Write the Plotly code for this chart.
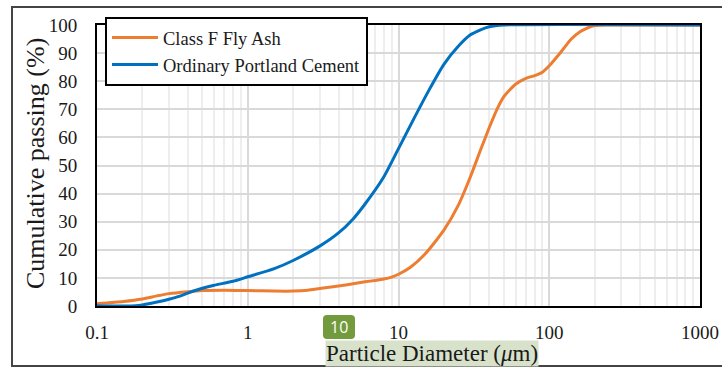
import plotly.graph_objects as go

# Particle size distribution data (diameter in micrometres, cumulative passing %)
fa_x = [0.1, 0.15, 0.2, 0.25, 0.3, 0.4, 0.5, 0.7, 1.0, 1.5, 2.0, 2.5, 3.0, 4.0, 5.0, 6.0, 7.0, 8.0, 9.0,
        10, 12, 15, 20, 25, 30, 35, 40, 45, 50, 60, 70, 80, 90, 100, 120, 140, 160, 180, 200, 250, 1000]
fa_y = [0.8, 1.6, 2.5, 3.6, 4.4, 5.1, 5.5, 5.6, 5.5, 5.3, 5.3, 5.6, 6.2, 7.1, 7.9, 8.6, 9.1, 9.6, 10.3,
        11.3, 13.8, 18.5, 27, 36, 46, 55.5, 63.5, 70, 74.5, 79, 81, 82, 83.2, 85.5, 90.5, 95, 97.6, 99, 99.8, 100, 100]

opc_x = [0.1, 0.15, 0.18, 0.2, 0.25, 0.3, 0.35, 0.4, 0.5, 0.6, 0.8, 1.0, 1.5, 2.0, 3.0, 4.0, 5.0, 6.0, 8.0,
         10, 12.6, 16, 20, 25, 30, 35, 40, 50, 1000]
opc_y = [0, 0, 0.1, 0.4, 1.4, 2.4, 3.4, 4.6, 6.3, 7.4, 8.8, 10.4, 13.3, 16.2, 21.3, 26, 31, 36.3, 46,
         56, 66.5, 77, 86, 92.5, 96.5, 98.3, 99.4, 100, 100]

x_tickvals = [0.1, 1, 10, 100, 1000]
x_ticktext = ["0.1", "1", "10", "100", "1000"]
y_tickvals = [0, 10, 20, 30, 40, 50, 60, 70, 80, 90, 100]

names = ["Class F Fly Ash", "Ordinary Portland Cement"]
colors = ["#ED7D31", "#0070C0"]

FONT = "Liberation Serif"

fig = go.Figure()
fig.add_trace(go.Scatter(x=fa_x, y=fa_y, mode="lines", name=names[0], legendgroup="a",
                         line=dict(color=colors[0], width=3, shape="spline", smoothing=0.6)))
fig.add_trace(go.Scatter(x=opc_x, y=opc_y, mode="lines", name=names[1], legendgroup="b",
                         line=dict(color=colors[1], width=3, shape="spline", smoothing=0.6)))

# plot area: px 97..700 horizontally, py 25..306 vertically
L, R, T, B = 97, 700, 25, 306
W, H = 722, 369


def px(x):
    return (x - L) / (R - L)


def py(y):
    return (B - y) / (B - T)


fig.update_layout(
    width=W, height=H,
    margin=dict(l=L, r=W - R, t=T, b=H - B, autoexpand=False),
    paper_bgcolor="white", plot_bgcolor="white",
    font=dict(family=FONT, size=19, color="#1a1a1a"),
    showlegend=True,
    legend=dict(xref="container", yref="container", x=105 / W, y=1 - 17 / H,
                xanchor="left", yanchor="top",
                bgcolor="white", bordercolor="black", borderwidth=2,
                font=dict(family=FONT, size=18.5, color="#1a1a1a"),
                itemwidth=46,
                traceorder="grouped", tracegroupgap=0),
    xaxis=dict(type="log", range=[-1, 3], tickvals=x_tickvals, ticktext=x_ticktext,
               showgrid=True, gridcolor="#d9d9d9", gridwidth=1.5,
               minor=dict(dtick="D1", showgrid=True, gridcolor="#eeeeee", gridwidth=1.5),
               showline=True, linecolor="black", linewidth=2, mirror=True,
               ticks="", ticklabelstandoff=8, zeroline=False, automargin=False,
               tickfont=dict(family=FONT, size=19)),
    yaxis=dict(range=[0, 100], tickvals=y_tickvals,
               showgrid=True, gridcolor="#d9d9d9", gridwidth=1.5,
               showline=True, linecolor="black", linewidth=2, mirror=True,
               ticks="", ticklabelstandoff=14, zeroline=False, automargin=False,
               tickfont=dict(family=FONT, size=19)),
)

# outer frame (right edge lies beyond the visible image)
fig.add_shape(type="rect", xref="paper", yref="paper",
              x0=px(12), x1=px(740), y0=py(366), y1=py(7),
              line=dict(color="#444444", width=2), fillcolor="rgba(0,0,0,0)", layer="below")

# y-axis title
fig.add_annotation(xref="paper", yref="paper", x=px(35), y=py(164),
                   text="Cumulative passing (%)", showarrow=False, textangle=-90,
                   font=dict(family=FONT, size=26, color="#1a1a1a"),
                   xanchor="center", yanchor="middle")

# x-axis title with highlight
fig.add_annotation(xref="paper", yref="paper", x=px(432), y=py(353),
                   text="Particle Diameter (<i>μ</i>m)", showarrow=False,
                   font=dict(family=FONT, size=23, color="#1a1a1a"),
                   bgcolor="#d8e2cb", borderpad=0, xanchor="center", yanchor="middle")

# green badge "10" (rounded rectangle)
x0, x1, y0, y1, r = 323, 355, 315, 339, 4
path = (f"M {px(x0 + r)} {py(y0)} L {px(x1 - r)} {py(y0)} Q {px(x1)} {py(y0)} {px(x1)} {py(y0 + r)} "
        f"L {px(x1)} {py(y1 - r)} Q {px(x1)} {py(y1)} {px(x1 - r)} {py(y1)} "
        f"L {px(x0 + r)} {py(y1)} Q {px(x0)} {py(y1)} {px(x0)} {py(y1 - r)} "
        f"L {px(x0)} {py(y0 + r)} Q {px(x0)} {py(y0)} {px(x0 + r)} {py(y0)} Z")
fig.add_shape(type="path", xref="paper", yref="paper", path=path,
              fillcolor="#739a3d", line=dict(width=0), layer="above")
fig.add_annotation(xref="paper", yref="paper", x=px(339), y=py(327), text="10", showarrow=False,
                   font=dict(family="Open Sans", size=16, color="white"),
                   xanchor="center", yanchor="middle")

fig.write_html("out.html", config={"displayModeBar": False},
               post_script="document.body.style.margin='0px';")
